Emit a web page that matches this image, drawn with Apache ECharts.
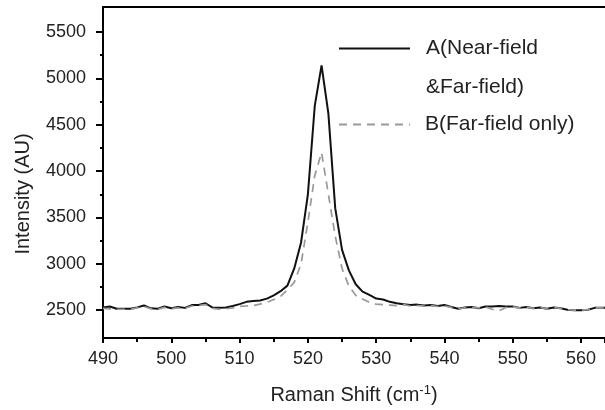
<!DOCTYPE html>
<html>
<head>
<meta charset="utf-8">
<script src="https://cdn.jsdelivr.net/npm/echarts@6.0.0/dist/echarts.min.js"></script>
<style>
  html, body { margin: 0; padding: 0; background: #fff; }
  #chart { width: 605px; height: 410px; }
</style>
</head>
<body>
<div id="chart"></div>
<script>
const ramanShift = [490,491,492,493,494,495,496,497,498,499,500,501,502,503,504,505,506,507,508,509,510,511,512,513,514,515,516,517,518,519,520,521,522,523,524,525,526,527,528,529,530,531,532,533,534,535,536,537,538,539,540,541,542,543,544,545,546,547,548,549,550,551,552,553,554,555,556,557,558,559,560,561,562,563,564];
const intensityA = [2530,2540,2515,2515,2515,2530,2550,2520,2515,2540,2520,2535,2525,2555,2555,2575,2530,2525,2530,2545,2565,2590,2600,2605,2625,2660,2705,2765,2950,3230,3750,4700,5140,4620,3600,3150,2930,2780,2700,2665,2625,2615,2590,2575,2565,2555,2560,2550,2555,2545,2555,2535,2515,2530,2535,2520,2540,2540,2545,2540,2540,2525,2535,2520,2530,2515,2530,2520,2505,2500,2500,2505,2525,2525,2530];
const intensityB = [2520,2515,2510,2510,2510,2525,2540,2515,2510,2530,2515,2525,2520,2545,2550,2560,2520,2510,2515,2525,2540,2545,2550,2565,2585,2615,2650,2720,2800,3000,3450,3950,4200,3750,3300,2950,2760,2660,2620,2585,2565,2560,2555,2550,2560,2545,2550,2545,2550,2540,2545,2530,2515,2525,2530,2525,2535,2510,2495,2530,2535,2525,2535,2520,2530,2515,2530,2520,2505,2500,2500,2505,2525,2525,2530];
const yTickLabels = [2500,3000,3500,4000,4500,5000,5500];
const yMinorTicks = [2750,3250,3750,4250,4750,5250];
const seriesNames = ['A(Near-field\n&Far-field)', 'B(Far-field only)'];

const FONT = '"Liberation Sans", Arial, sans-serif';
const chart = echarts.init(document.getElementById('chart'));
const yBase = {
  type: 'value', min: 2200, max: 5770, position: 'left',
  splitLine: { show: false }
};
chart.setOption({
  animation: false,
  backgroundColor: '#fff',
  grid: { left: 103, right: 0, top: 7, bottom: 70 },
  legend: {
    orient: 'vertical', left: 338, top: -10, padding: 0, itemGap: 0,
    itemWidth: 71, itemHeight: 14,
    itemStyle: { opacity: 0 },
    formatter: function (name) { return name === seriesNames[0] ? '\n' + name : name; },
    textStyle: { fontFamily: FONT, fontSize: 21, color: '#222' },
    data: [
      { name: seriesNames[0], textStyle: { lineHeight: 39, padding: [0, 0, 0, 11] } },
      { name: seriesNames[1], textStyle: { lineHeight: 35, padding: [0, 0, 0, 10] } }
    ]
  },
  xAxis: [{
    type: 'value', min: 490, max: 563.5, interval: 10,
    name: '{n|Raman Shift (cm}{s|-1}{n|)}',
    nameLocation: 'middle', nameGap: 46,
    nameTextStyle: {
      rich: {
        n: { fontFamily: FONT, fontSize: 20, color: '#222', lineHeight: 22 },
        s: { fontFamily: FONT, fontSize: 13, color: '#222', verticalAlign: 'top', lineHeight: 22 }
      }
    },
    axisLine: { onZero: false, lineStyle: { color: '#000', width: 2 } },
    axisTick: { length: 5, lineStyle: { color: '#000', width: 2 } },
    minorTick: { show: true, splitNumber: 2, length: 4, lineStyle: { color: '#000', width: 2 } },
    axisLabel: { margin: 12, fontFamily: FONT, fontSize: 18, color: '#222', showMaxLabel: false },
    splitLine: { show: false }
  }, {
    type: 'value', min: 490, max: 563.5, position: 'top',
    axisLine: { onZero: false, lineStyle: { color: '#000', width: 2 } },
    axisTick: { show: false }, axisLabel: { show: false }, splitLine: { show: false }
  }],
  yAxis: [Object.assign({}, yBase, {
    axisLine: { show: true, onZero: false, lineStyle: { color: '#000', width: 2 } },
    axisTick: { show: true, length: 7, customValues: yTickLabels, lineStyle: { color: '#000', width: 2 } },
    axisLabel: { margin: 17, customValues: yTickLabels, formatter: function (v) { return String(v); },
      fontFamily: FONT, fontSize: 18, color: '#222' }
  }), Object.assign({}, yBase, {
    axisLine: { show: false },
    axisTick: { show: true, length: 3, customValues: yMinorTicks, lineStyle: { color: '#000', width: 2 } },
    axisLabel: { show: false }
  })],
  graphic: [{
    type: 'text', x: 23, y: 194, rotation: Math.PI / 2,
    style: { text: 'Intensity (AU)', font: '20px ' + FONT, fill: '#222', align: 'center', verticalAlign: 'middle' }
  }],
  series: [{
    name: seriesNames[0], type: 'line', symbol: 'none', xAxisIndex: 0, yAxisIndex: 0,
    data: ramanShift.map((x, i) => [x, intensityA[i]]),
    lineStyle: { color: '#111', width: 2 }, itemStyle: { color: '#111' }
  }, {
    name: seriesNames[1], type: 'line', symbol: 'none', xAxisIndex: 0, yAxisIndex: 0,
    data: ramanShift.map((x, i) => [x, intensityB[i]]),
    lineStyle: { color: '#999', width: 1.7, type: [8, 6] }, itemStyle: { color: '#999' }
  }]
});
</script>
</body>
</html>
